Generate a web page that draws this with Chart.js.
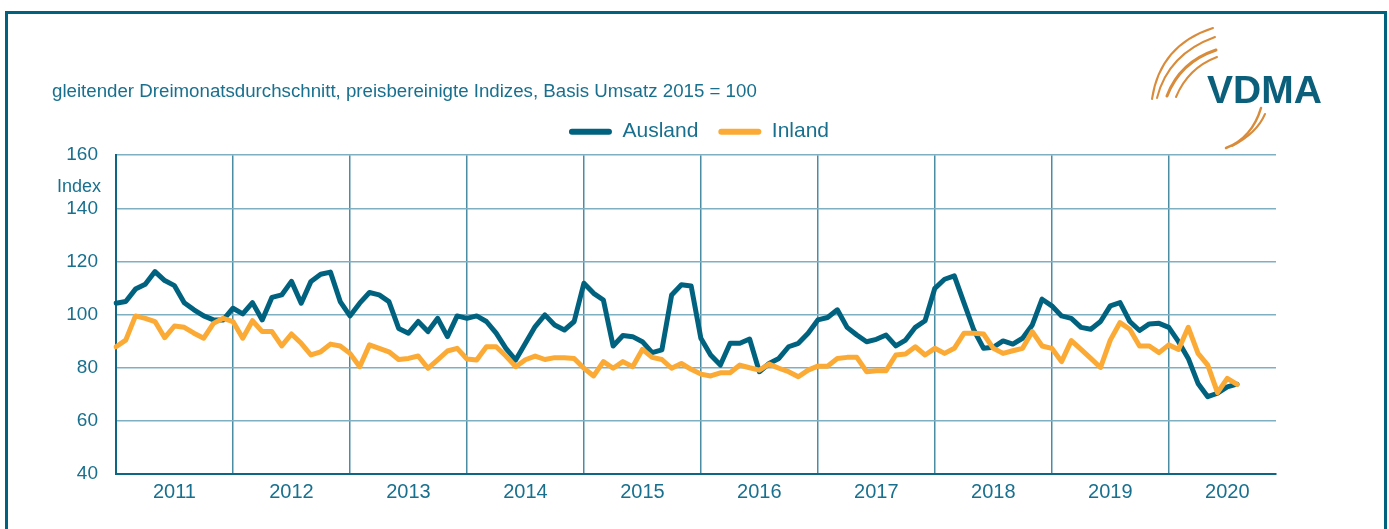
<!DOCTYPE html>
<html>
<head>
<meta charset="utf-8">
<script src="https://cdn.jsdelivr.net/npm/chart.js@4"></script>
<style>
  html, body { margin: 0; padding: 0; background: #fff; overflow: hidden; }
  #wrap { position: relative; width: 1389px; height: 529px; }
  #chart { position: absolute; left: 0; top: 0; }
  #frame { position: absolute; left: 5px; top: 11px; width: 1382px; height: 600px;
           box-sizing: border-box; border: 3px solid #00627e; pointer-events: none; }
  #logo { position: absolute; left: 0; top: 0; pointer-events: none; }
</style>
</head>
<body>
<div id="wrap">
  <canvas id="chart" width="1389" height="529"></canvas>
  <div id="frame"></div>
  <svg id="logo" width="1389" height="529">
    <g fill="none" stroke="#d98b3c" stroke-linecap="round">
      <path d="M1152,99 Q1160,45 1213,28" stroke-width="2"/>
      <path d="M1157,98 Q1168,54 1215,37" stroke-width="2"/>
      <path d="M1167,96 Q1180,62 1216,50" stroke-width="3"/>
      <path d="M1176,97 Q1188,68 1217,57" stroke-width="2"/>
      <path d="M1226,148 Q1252,138 1261,108" stroke-width="2.5"/>
      <path d="M1232,146 Q1257,133 1265,114" stroke-width="2"/>
    </g>
    <text x="1207" y="103" font-family="Liberation Sans, Arial, sans-serif" font-weight="bold" font-size="39" fill="#0b5f7a">VDMA</text>
  </svg>
</div>
<script>
// Jahre der x-Achse
var years = ['2011', '2012', '2013', '2014', '2015', '2016', '2017', '2018', '2019', '2020'];

// Auftragseingang Ausland, Jan 2011 - Aug 2020
var ausland = [
  104.3, 104.9, 109.6, 111.4, 116.2, 112.8, 110.9, 104.5, 101.8, 99.5, 98.0, 98.0,
  102.4, 100.3, 104.5, 98.0, 106.5, 107.4, 112.5, 104.3, 112.5, 115.2, 116.0, 104.9,
  99.5, 104.3, 108.3, 107.4, 104.9, 94.8, 93.0, 97.4, 93.6, 98.6, 91.7, 99.5,
  98.6, 99.5, 97.4, 93.0, 87.3, 82.9, 89.2, 95.5, 99.9, 96.1, 94.2, 97.4,
  111.8, 108.0, 105.5, 88.2, 92.1, 91.7, 89.8, 85.7, 86.7, 107.4, 111.2, 110.8,
  91.1, 84.8, 81.0, 89.2, 89.2, 90.8, 78.5, 81.6, 83.5, 87.9, 89.2, 93.0,
  98.0, 98.9, 101.8, 95.2, 92.3, 89.8, 90.7, 92.3, 88.2, 90.4, 95.2, 97.7,
  109.9, 113.3, 114.6, 104.3, 94.2, 87.3, 87.7, 90.1, 88.9, 91.1, 96.1, 105.8,
  103.3, 99.5, 98.6, 95.2, 94.5, 97.4, 103.3, 104.5, 97.4, 94.0, 96.5, 96.7,
  95.2, 89.8, 83.5, 74.1, 69.1, 70.4, 72.8, 73.8
];

// Auftragseingang Inland
var inland = [
  87.9, 90.4, 99.5, 98.6, 97.4, 91.3, 95.7, 95.2, 93.0, 91.1, 96.7, 98.6,
  97.4, 91.1, 97.7, 93.6, 93.6, 88.2, 92.7, 89.2, 84.8, 86.0, 88.9, 88.2,
  85.4, 80.4, 88.6, 87.3, 86.0, 83.1, 83.5, 84.4, 79.8, 83.0, 86.3, 87.3,
  83.3, 82.9, 87.9, 87.9, 84.4, 80.4, 83.0, 84.4, 83.1, 83.8, 83.8, 83.5,
  79.8, 76.9, 82.3, 79.8, 82.3, 80.4, 86.9, 83.9, 83.1, 79.8, 81.6, 79.4,
  77.6, 76.9, 78.1, 78.1, 81.0, 80.0, 79.1, 81.4, 79.8, 78.5, 76.6, 79.1,
  80.6, 80.6, 83.5, 83.9, 83.9, 78.5, 78.9, 78.9, 84.8, 85.2, 87.9, 84.8,
  87.3, 85.4, 87.3, 93.0, 93.0, 92.7, 87.3, 85.4, 86.4, 87.3, 93.6, 88.2,
  87.3, 82.3, 90.2, 86.9, 83.5, 80.1, 90.4, 97.0, 94.5, 88.2, 88.2, 85.7,
  88.6, 86.9, 95.2, 85.4, 81.0, 70.6, 76.0, 73.7
];

// Monatslabels aus den Jahren
var months = [];
years.forEach(function(y) {
    for (var m = 1; m <= 12; m++) {
        months.push(y + '-' + (m < 10 ? '0' + m : m));
    }
});

var teal = '#18708e';
var fontFam = '"Liberation Sans", Arial, sans-serif';

// schreibt "Index" unter die 160
var indexLabel = {
    id: 'indexLabel',
    afterDraw: function(chart) {
        var ctx = chart.ctx;
        ctx.save();
        ctx.font = '18px ' + fontFam;
        ctx.fillStyle = teal;
        ctx.textAlign = 'left';
        ctx.textBaseline = 'alphabetic';
        ctx.fillText('Index', 57, 192);
        ctx.restore();
    }
};

// Abstand zwischen Legende und Diagramm
var legendHeight = {
    id: 'legendHeight',
    beforeInit: function(chart) {
        var fit = chart.legend.fit;
        chart.legend.fit = function() {
            fit.call(chart.legend);
            this.height = 54;
        };
    }
};

var ctx = document.getElementById('chart').getContext('2d');
var myChart = new Chart(ctx, {
    type: 'line',
    data: {
        labels: months,
        datasets: [{
            label: 'Ausland',
            data: ausland,
            borderColor: '#00627e',
            backgroundColor: '#00627e',
            borderWidth: 5,
            pointRadius: 0,
            tension: 0,
            borderJoinStyle: 'round',
            borderCapStyle: 'round',
            order: 1
        }, {
            label: 'Inland',
            data: inland,
            borderColor: '#fbaa35',
            backgroundColor: '#fbaa35',
            borderWidth: 5,
            pointRadius: 0,
            tension: 0,
            borderJoinStyle: 'round',
            borderCapStyle: 'round',
            order: 0
        }]
    },
    options: {
        responsive: false,
        animation: false,
        layout: { padding: { left: 52, right: 43, top: 0, bottom: 0 } },
        plugins: {
            tooltip: { enabled: false },
            title: {
                display: true,
                text: 'gleitender Dreimonatsdurchschnitt, preisbereinigte Indizes, Basis Umsatz 2015 = 100',
                align: 'start',
                color: teal,
                font: { family: fontFam, size: 18.7, weight: 'normal', lineHeight: 1 },
                padding: { top: 82.5, bottom: 0 }
            },
            legend: {
                display: true,
                position: 'top',
                labels: {
                    color: teal,
                    font: { family: fontFam, size: 21 },
                    boxWidth: 43,
                    boxHeight: 6,
                    padding: 20,
                    useBorderRadius: true,
                    borderRadius: 3,
                    sort: function(a, b) { return a.datasetIndex - b.datasetIndex; },
                    generateLabels: function(chart) {
                        var items = Chart.defaults.plugins.legend.labels.generateLabels(chart);
                        items.forEach(function(it) { it.lineWidth = 0; });
                        return items;
                    }
                }
            }
        },
        scales: {
            x: {
                type: 'category',
                offset: false,
                grid: {
                    color: function(c) {
                        return (c.index > 0 && c.index % 12 === 0) ? '#4a8ca4' : 'rgba(0,0,0,0)';
                    },
                    lineWidth: 1.5,
                    drawTicks: false
                },
                border: { color: '#0d6683', width: 2 },
                ticks: {
                    autoSkip: false,
                    maxRotation: 0,
                    padding: 6,
                    color: teal,
                    font: { family: fontFam, size: 20 },
                    callback: function(v, i) {
                        return i % 12 === 6 ? years[Math.floor(i / 12)] : '';
                    }
                },
                afterFit: function(s) { s.height = 55; }
            },
            y: {
                min: 40,
                max: 160,
                grid: { color: '#7fb0c1', lineWidth: 1.5, drawTicks: false },
                border: { color: '#0d6683', width: 2 },
                ticks: {
                    stepSize: 20,
                    padding: 18,
                    color: teal,
                    font: { family: fontFam, size: 19 }
                },
                afterFit: function(s) { s.width = 64; }
            },
            spacer: {
                type: 'linear',
                position: 'right',
                grid: { display: false },
                border: { display: false },
                ticks: { display: false },
                afterFit: function(s) { s.width = 70; }
            }
        }
    },
    plugins: [indexLabel, legendHeight]
});
</script>
</body>
</html>
